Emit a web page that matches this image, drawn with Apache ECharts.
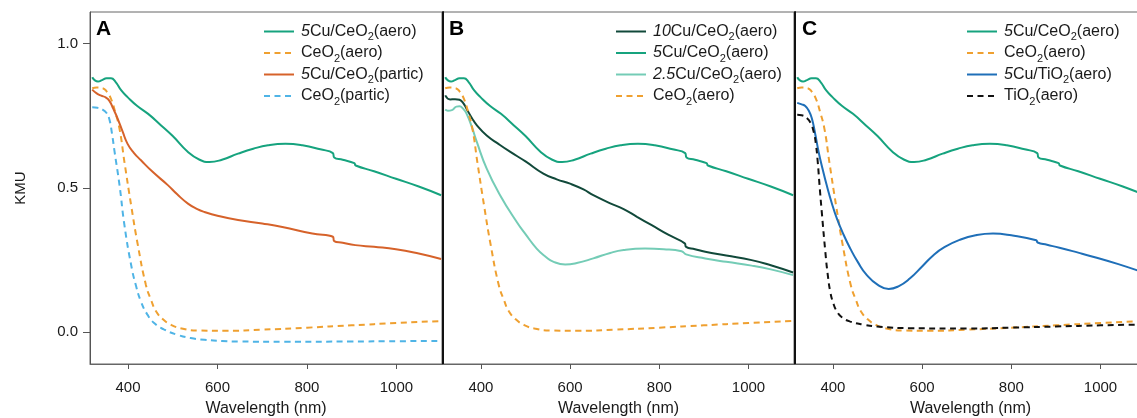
<!DOCTYPE html>
<html>
<head>
<meta charset="utf-8">
<script src="https://cdn.jsdelivr.net/npm/echarts@6/dist/echarts.min.js"></script>
<style>
html,body{margin:0;padding:0;background:#fff;}
#chart{width:1137px;height:418px;}
</style>
</head>
<body>
<div id="chart"></div>
<script>
// ---- data (wavelength in nm, KMU) ----
var xTicks = [400, 600, 800, 1000];
var yTicks = [0, 0.5, 1.0];

var wl5CuCeAero = [320,326,333,342,352,362,372,385,399,420,445,474,500,534,560,582,610,646,680,713,752,790,830,858,861,880,906,909,950,999,1050,1100];
var kmu5CuCeAero = [0.884,0.873,0.869,0.874,0.880,0.880,0.868,0.838,0.815,0.785,0.757,0.717,0.680,0.625,0.598,0.590,0.598,0.619,0.636,0.648,0.653,0.648,0.634,0.621,0.606,0.598,0.586,0.578,0.558,0.532,0.505,0.475];

var wlCeAero = [320,330,343,352,362,371,381,392,407,422,440,452,463,478,496,520,556,620,700,800,900,1000,1100];
var kmuCeAero = [0.846,0.848,0.846,0.835,0.809,0.765,0.705,0.590,0.440,0.302,0.164,0.110,0.072,0.045,0.026,0.013,0.006,0.005,0.009,0.016,0.024,0.032,0.039];

var wl5CuCePartic = [320,330,340,350,358,367,377,388,399,413,429,455,489,510,534,555,571,600,646,700,745,812,858,861,880,908,950,999,1050,1100];
var kmu5CuCePartic = [0.841,0.828,0.820,0.814,0.803,0.775,0.740,0.695,0.653,0.622,0.596,0.556,0.510,0.478,0.446,0.427,0.417,0.404,0.389,0.377,0.365,0.342,0.331,0.316,0.310,0.302,0.296,0.288,0.273,0.254];

var wlCePartic = [320,332,343,352,358,364,370,381,392,407,418,429,443,459,480,511,540,571,610,646,750,900,1000,1100];
var kmuCePartic = [0.780,0.778,0.772,0.760,0.740,0.690,0.625,0.510,0.371,0.233,0.160,0.106,0.062,0.031,0.010,-0.009,-0.020,-0.026,-0.030,-0.032,-0.033,-0.032,-0.031,-0.030];

var wl10Cu = [320,331,342,352,360,368,380,391,413,440,466,500,540,570,600,630,652,690,720,750,783,820,857,860,880,903,950,1007,1050,1100];
var kmu10Cu = [0.821,0.807,0.808,0.806,0.795,0.774,0.742,0.717,0.682,0.652,0.625,0.592,0.550,0.530,0.515,0.495,0.475,0.447,0.427,0.400,0.371,0.338,0.308,0.296,0.288,0.279,0.266,0.250,0.232,0.207];

var wl25Cu = [320,326,335,345,352,360,368,380,391,413,443,480,500,525,545,563,589,615,652,690,720,768,810,850,860,903,950,1007,1050,1100];
var kmu25Cu = [0.772,0.768,0.770,0.782,0.783,0.775,0.757,0.710,0.659,0.567,0.475,0.383,0.340,0.290,0.262,0.244,0.235,0.240,0.256,0.275,0.285,0.290,0.288,0.281,0.270,0.256,0.244,0.231,0.218,0.198];

var wl5CuTi = [320,330,338,346,353,360,368,377,386,397,409,424,439,456,476,500,525,548,573,600,626,650,684,720,759,800,856,859,880,908,950,983,1040,1100];
var kmu5CuTi = [0.795,0.790,0.784,0.768,0.740,0.690,0.625,0.565,0.510,0.450,0.394,0.338,0.290,0.243,0.198,0.165,0.150,0.160,0.187,0.228,0.268,0.295,0.320,0.336,0.342,0.336,0.319,0.311,0.303,0.293,0.276,0.262,0.236,0.205];

var wlTi = [320,330,342,350,357,362,366,370,375,383,388,394,401,409,420,439,470,499,574,700,800,900,1000,1100];
var kmuTi = [0.754,0.752,0.742,0.725,0.694,0.650,0.590,0.510,0.417,0.279,0.205,0.141,0.100,0.072,0.052,0.037,0.026,0.020,0.014,0.013,0.016,0.020,0.024,0.027];

var legendA = ['5Cu/CeO2(aero)','CeO2(aero)','5Cu/CeO2(partic)','CeO2(partic)'];
var legendB = ['10Cu/CeO2(aero)','5Cu/CeO2(aero)','2.5Cu/CeO2(aero)','CeO2(aero)'];
var legendC = ['5Cu/CeO2(aero)','CeO2(aero)','5Cu/TiO2(aero)','TiO2(aero)'];

function zip(a, b){ return a.map(function(x, i){ return [x, b[i]]; }); }

var FONT = 'Liberation Sans, Arial, sans-serif';
var C = {
  green: '#16a37e', orange: '#efa030', red: '#d6622a', lblue: '#4fb4e6',
  dgreen: '#11493a', teal: '#74ccb6', blue: '#1f6fb8', black: '#111111'
};
var DASH = [6, 4.5];

function line(name, wl, v, color, dashed, idx){
  return {
    name: name, type: 'line', xAxisIndex: idx, yAxisIndex: idx,
    data: zip(wl, v), showSymbol: false, symbol: 'none',
    smooth: 0.5,
    lineStyle: {color: color, width: 2, type: dashed ? DASH : 'solid'},
    itemStyle: {color: color}, z: 3
  };
}

var grids = [
  {left: 90, top: 12, width: 352, height: 352},
  {left: 443, top: 12, width: 351, height: 352},
  {left: 795, top: 12, width: 351, height: 352}
].map(function(g){
  g.show = true; g.borderColor = '#666'; g.borderWidth = 1; g.containLabel = false;
  g.outerBoundsMode = 'none';
  return g;
});

var xAxes = [0,1,2].map(function(i){
  return {
    type: 'value', gridIndex: i, min: 315, max: 1102,
    name: 'Wavelength (nm)', nameLocation: 'middle', nameGap: 37,
    nameTextStyle: {fontSize: 16, color: '#1a1a1a', fontFamily: FONT},
    axisLine: {show: true, onZero: false, lineStyle: {color: '#666', width: 1}},
    axisTick: {show: true, inside: false, length: 5, customValues: xTicks, lineStyle: {color: '#555'}},
    axisLabel: {show: true, customValues: xTicks, margin: 16, fontSize: 15, color: '#1a1a1a', fontFamily: FONT,
      formatter: function(v){ return String(v); }},
    splitLine: {show: false}
  };
});

var yAxes = [0,1,2].map(function(i){
  var a = {
    type: 'value', gridIndex: i, min: -0.11, max: 1.11,
    splitLine: {show: false}
  };
  if (i === 0) {
    a.name = 'KMU'; a.nameLocation = 'middle'; a.nameGap = 62;
    a.nameTextStyle = {fontSize: 15, color: '#1a1a1a', fontFamily: FONT};
    a.axisLine = {show: true, onZero: false, lineStyle: {color: '#555', width: 1}};
    a.axisTick = {show: true, inside: false, length: 7, customValues: yTicks, lineStyle: {color: '#555'}};
    a.axisLabel = {show: true, customValues: yTicks, margin: 12, fontSize: 15, color: '#1a1a1a', fontFamily: FONT,
      formatter: function(v){ return v.toFixed(1); }};
  } else {
    a.axisLine = {show: true, onZero: false, lineStyle: {color: '#111', width: 2}};
    a.axisTick = {show: false};
    a.axisLabel = {show: false};
  }
  return a;
});

function fmt(name){
  return name.replace(/^([\d.]+)/, '{i|$1}').replace(/O2/, 'O{s|2}');
}
function legend(data, left){
  return {
    data: data, orient: 'vertical', left: left, top: 20.5, padding: 0,
    itemWidth: 30, itemHeight: 14, itemGap: -0.5,
    selectedMode: false,
    itemStyle: {opacity: 0},
    formatter: fmt,
    textStyle: {
      fontSize: 16, color: '#1a1a1a', fontFamily: FONT, lineHeight: 22, padding: [0,0,0,2],
      rich: {
        i: {fontSize: 16, fontStyle: 'italic', color: '#1a1a1a', fontFamily: FONT, lineHeight: 22},
        s: {fontSize: 11, color: '#1a1a1a', fontFamily: FONT, lineHeight: 12, verticalAlign: 'bottom'}
      }
    }
  };
}

var series = [
  // A
  line('5Cu/CeO2(aero)', wl5CuCeAero, kmu5CuCeAero, C.green, false, 0),
  line('CeO2(aero)', wlCeAero, kmuCeAero, C.orange, true, 0),
  line('5Cu/CeO2(partic)', wl5CuCePartic, kmu5CuCePartic, C.red, false, 0),
  line('CeO2(partic)', wlCePartic, kmuCePartic, C.lblue, true, 0),
  // B
  line('10Cu/CeO2(aero)', wl10Cu, kmu10Cu, C.dgreen, false, 1),
  line('5Cu/CeO2(aero)', wl5CuCeAero, kmu5CuCeAero, C.green, false, 1),
  line('2.5Cu/CeO2(aero)', wl25Cu, kmu25Cu, C.teal, false, 1),
  line('CeO2(aero)', wlCeAero, kmuCeAero, C.orange, true, 1),
  // C
  line('5Cu/CeO2(aero)', wl5CuCeAero, kmu5CuCeAero, C.green, false, 2),
  line('CeO2(aero)', wlCeAero, kmuCeAero, C.orange, true, 2),
  line('5Cu/TiO2(aero)', wl5CuTi, kmu5CuTi, C.blue, false, 2),
  line('TiO2(aero)', wlTi, kmuTi, C.black, true, 2)
];

var chart = echarts.init(document.getElementById('chart'), null, {renderer: 'canvas'});
chart.setOption({
  animation: false,
  backgroundColor: '#ffffff',
  textStyle: {fontFamily: FONT},
  grid: grids,
  xAxis: xAxes,
  yAxis: yAxes,
  legend: [legend(legendA, 263), legend(legendB, 615), legend(legendC, 966)],
  graphic: [
    {type: 'text', left: 96, top: 19, style: {text: 'A', font: 'bold 21px ' + FONT, fill: '#000'}},
    {type: 'text', left: 449, top: 19, style: {text: 'B', font: 'bold 21px ' + FONT, fill: '#000'}},
    {type: 'text', left: 802, top: 19, style: {text: 'C', font: 'bold 21px ' + FONT, fill: '#000'}}
  ],
  series: series
});
</script>
</body>
</html>
